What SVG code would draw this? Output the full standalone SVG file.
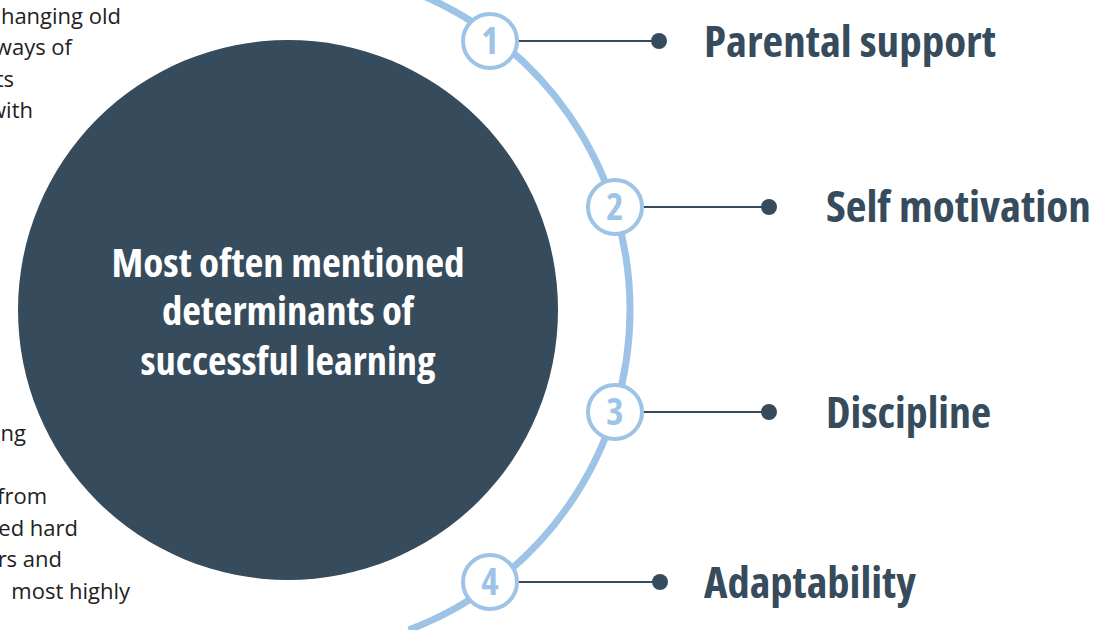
<svg xmlns="http://www.w3.org/2000/svg" width="1096" height="630" viewBox="0 0 1096 630">
  <style>
    .body { font-family: "Open Sans", "Liberation Sans", sans-serif; font-size: 22px; fill: #222222; text-anchor: end; }
    .cond { font-family: "Open Sans", "Liberation Sans", sans-serif; font-weight: 700; font-stretch: 75%; }
    .hub-text { fill: #ffffff; font-size: 40px; text-anchor: middle; }
    .label { fill: #364b5c; font-size: 42px; }
    .num { fill: #9dc3e6; font-size: 37px; text-anchor: middle; }
    .badge { fill: #ffffff; stroke: #9dc3e6; stroke-width: 4; }
    .link { stroke: #364b5c; stroke-width: 2; fill: none; }
    .dot { fill: #364b5c; }
  </style>
  <rect width="1096" height="630" fill="#ffffff"/>

  <!-- paragraph fragments on the left edge -->
  <g id="side-text">
    <text class="body" x="121" y="24">hanging old</text>
    <text class="body" x="72" y="55">ways of</text>
    <text class="body" x="14" y="87">ts</text>
    <text class="body" x="33" y="118">with</text>
    <text class="body" x="26" y="441">ng</text>
    <text class="body" x="47" y="504">from</text>
    <text class="body" x="78" y="536">ed hard</text>
    <text class="body" x="62" y="567">rs and</text>
    <text class="body" x="130" y="599">most highly</text>
  </g>

  <!-- guide arc, concentric with the hub -->
  <g id="arc">
    <path d="M 408.7 -10 A 342 342 0 0 1 408.7 630" fill="none" stroke="#9dc3e6" stroke-width="7"/>
  </g>

  <!-- central hub -->
  <g id="hub">
    <circle cx="288" cy="310" r="270" fill="#364b5c"/>
    <text class="cond hub-text" x="288" y="277" textLength="353" lengthAdjust="spacingAndGlyphs">Most often mentioned</text>
    <text class="cond hub-text" x="288" y="325" textLength="252" lengthAdjust="spacingAndGlyphs">determinants of</text>
    <text class="cond hub-text" x="288" y="375" textLength="295" lengthAdjust="spacingAndGlyphs">successful learning</text>
  </g>

  <!-- connectors from badges to labels -->
  <g id="connectors">
    <line class="link" x1="518" y1="41" x2="659" y2="41"/>
    <circle class="dot" cx="659" cy="41" r="8"/>
    <line class="link" x1="643" y1="207" x2="769" y2="207"/>
    <circle class="dot" cx="769" cy="207" r="8"/>
    <line class="link" x1="643" y1="412" x2="769" y2="412"/>
    <circle class="dot" cx="769" cy="412" r="8"/>
    <line class="link" x1="518" y1="582" x2="660" y2="582"/>
    <circle class="dot" cx="660" cy="582" r="8"/>
  </g>

  <g id="item-1">
    <circle class="badge" cx="490" cy="41" r="27"/>
    <text class="cond num" x="490" y="54">1</text>
    <text class="cond label" x="704" y="57" textLength="292" lengthAdjust="spacingAndGlyphs">Parental support</text>
  </g>
  <g id="item-2">
    <circle class="badge" cx="615" cy="207" r="27"/>
    <text class="cond num" x="615" y="220">2</text>
    <text class="cond label" x="826" y="222" textLength="265" lengthAdjust="spacingAndGlyphs">Self motivation</text>
  </g>
  <g id="item-3">
    <circle class="badge" cx="615" cy="412" r="27"/>
    <text class="cond num" x="615" y="425">3</text>
    <text class="cond label" x="826" y="428" textLength="165" lengthAdjust="spacingAndGlyphs">Discipline</text>
  </g>
  <g id="item-4">
    <circle class="badge" cx="490" cy="582" r="27"/>
    <text class="cond num" x="490" y="595">4</text>
    <text class="cond label" x="704" y="598" textLength="212" lengthAdjust="spacingAndGlyphs">Adaptability</text>
  </g>
</svg>
